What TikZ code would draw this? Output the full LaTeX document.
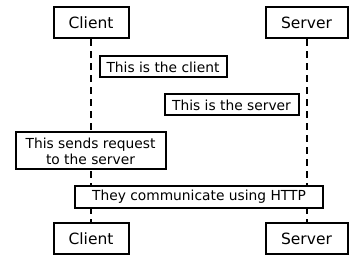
\documentclass[tikz,border=0pt]{standalone}
\usepackage{fontspec}
\setmainfont{DejaVu Sans}
\usetikzlibrary{backgrounds}
\begin{document}
\begin{tikzpicture}[x=1pt,y=-1pt,
  actor/.style={draw, line width=2pt, fill=white, minimum height=31pt, inner sep=0pt, font=\fontsize{15.5}{18}\selectfont},
  note/.style={draw, line width=2pt, fill=white, inner sep=0pt, align=center, font=\fontsize{13.8}{16}\selectfont},
  lifeline/.style={line width=2pt, dash pattern=on 7pt off 5pt}]
\useasboundingbox (0,0) rectangle (357,264);
\node[actor, minimum width=75pt] (c1) at (91,23) {Client};
\node[actor, minimum width=82pt] (s1) at (306.5,23) {Server};
\node[actor, minimum width=75pt] (c2) at (91,239) {Client};
\node[actor, minimum width=82pt] (s2) at (306.5,239) {Server};
\begin{pgfonlayer}{background}
\draw[lifeline] (c1.south) -- (c2.north);
\draw[lifeline] (s1.south) -- (s2.north);
\end{pgfonlayer}
\node[note, minimum width=127pt, minimum height=21pt] (n1) at (163,67) {This is the client};
\node[note, minimum width=134pt, minimum height=21pt] (n2) at (231.5,105) {This is the server};
\node[note, minimum width=150pt, minimum height=37pt] (n3) at (90.5,151) {This sends request\\to the server};
\node[note, minimum width=248pt, minimum height=22pt] (n4) at (199,197) {They communicate using HTTP};
\end{tikzpicture}
\end{document}
